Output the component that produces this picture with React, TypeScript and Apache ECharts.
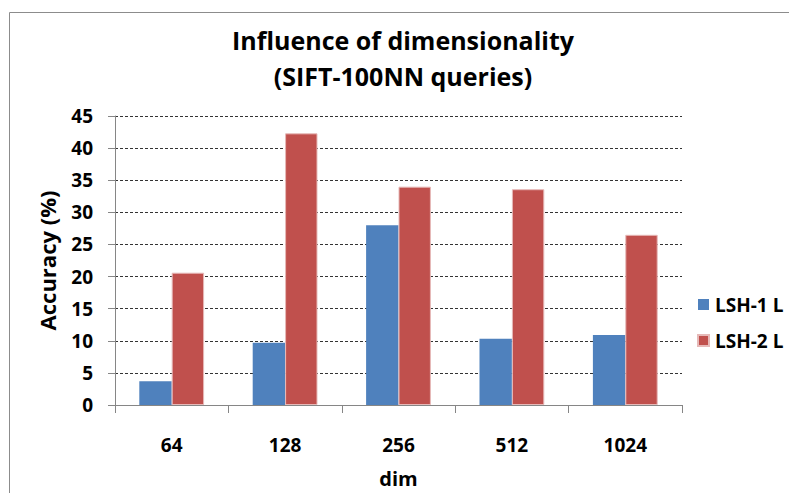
import React, { useEffect, useRef } from "react";
import * as echarts from "echarts";

const categories = ["64", "128", "256", "512", "1024"];
const lsh1 = [3.7, 9.7, 28.0, 10.3, 10.9];
const lsh2 = [20.6, 42.3, 34.0, 33.6, 26.5];
const seriesNames = ["LSH-1 L", "LSH-2 L"];
const titleLines = ["Influence of dimensionality", "(SIFT-100NN queries)"];

const FONT = "'Open Sans', 'Noto Sans', sans-serif";

export default function App() {
  const ref = useRef<HTMLDivElement>(null);
  useEffect(() => {
    if (!ref.current) return;
    const chart = echarts.init(ref.current, null, { renderer: "svg" });
    chart.setOption({
      animation: false,
      backgroundColor: "#ffffff",
      textStyle: { fontFamily: FONT },
      graphic: [
        {
          type: "rect",
          shape: { x: 9.5, y: 12.5, width: 900, height: 600 },
          style: { fill: "none", stroke: "#8c8c8c", lineWidth: 1 },
          silent: true,
          z: -10,
        },
      ],
      title: {
        text: titleLines.join("\n"),
        left: 398,
        top: 17,
        textAlign: "center",
        textStyle: {
          fontFamily: FONT,
          fontWeight: "bold",
          fontSize: 25,
          lineHeight: 36,
          color: "#000",
        },
      },
      legend: {
        orient: "vertical",
        left: 692,
        top: 290,
        itemWidth: 11,
        itemHeight: 11,
        itemGap: 17,
        icon: "rect",
        data: seriesNames,
        textStyle: {
          fontFamily: FONT,
          fontWeight: "bold",
          fontSize: 19,
          color: "#000",
          padding: [0, 0, 0, 1],
        },
      },
      grid: { left: 115, right: 107, top: 116, height: 290, containLabel: false },
      xAxis: {
        type: "category",
        data: categories,
        name: "dim",
        nameLocation: "middle",
        nameGap: 63,
        nameTextStyle: { fontFamily: FONT, fontWeight: "bold", fontSize: 20, color: "#000" },
        axisLine: { lineStyle: { color: "#868686", width: 1 } },
        axisTick: { show: true, length: 8, lineStyle: { color: "#868686" } },
        axisLabel: {
          fontFamily: FONT,
          fontWeight: "bold",
          fontSize: 19,
          color: "#000",
          margin: 30,
        },
      },
      yAxis: {
        type: "value",
        min: 0,
        max: 45,
        interval: 5,
        name: "Accuracy (%)",
        nameLocation: "middle",
        nameGap: 57,
        nameRotate: 90,
        nameTextStyle: { fontFamily: FONT, fontWeight: "bold", fontSize: 22, color: "#000" },
        axisLine: { show: true, lineStyle: { color: "#868686", width: 1 } },
        axisTick: { show: true, length: 7, lineStyle: { color: "#868686" } },
        axisLabel: {
          fontFamily: FONT,
          fontWeight: "bold",
          fontSize: 19,
          color: "#000",
          margin: 22,
        },
        splitLine: {
          show: true,
          lineStyle: { color: "#333", type: [3, 2], width: 1 },
        },
      },
      series: [
        {
          name: seriesNames[0],
          type: "bar",
          data: lsh1,
          barGap: "0%",
          barCategoryGap: "42.86%",
          itemStyle: { color: "#4F81BD" },
        },
        {
          name: seriesNames[1],
          type: "bar",
          data: lsh2,
          barGap: "0%",
          barCategoryGap: "42.86%",
          itemStyle: { color: "#C0504D", borderColor: "#E6B9B8", borderWidth: 1 },
        },
      ],
    });
    return () => chart.dispose();
  }, []);
  return <div ref={ref} style={{ width: 789, height: 493, position: "absolute", left: 0, top: 0 }} />;
}
